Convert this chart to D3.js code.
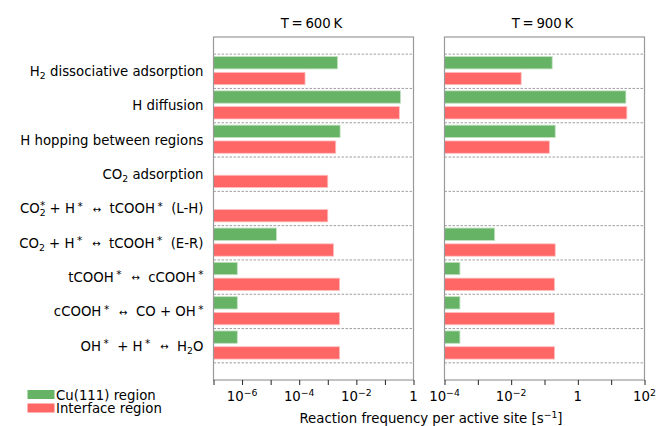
<!DOCTYPE html>
<html>
<head>
<meta charset="utf-8">
<script src="https://cdn.jsdelivr.net/npm/d3@7"></script>
<style>
  body { margin: 0; background: #fff; }
  svg text { font-family: "DejaVu Sans", sans-serif; fill: #000; white-space: pre; }
</style>
</head>
<body>
<svg id="chart" width="656" height="426"></svg>
<script>
// reaction steps, each label is a list of [text, style] pieces
const categories = [
    [["H", null], ["2", "sub"], [" dissociative adsorption", null]],
    [["H diffusion", null]],
    [["H hopping between regions", null]],
    [["CO", null], ["2", "sub"], [" adsorption", null]],
    [["CO", null], ["2", "sub"], ["*", "supx"], [" + H", null], ["*", "sup"], ["  ", null], ["\u2194", "arrow"], ["  tCOOH", null], ["*", "sup"], ["  (L-H)", null]],
    [["CO", null], ["2", "sub"], [" + H", null], ["*", "sup"], ["  ", null], ["\u2194", "arrow"], ["  tCOOH", null], ["*", "sup"], ["  (E-R)", null]],
    [["tCOOH", null], ["*", "sup"], ["  ", null], ["\u2194", "arrow"], ["  cCOOH", null], ["*", "sup"]],
    [["cCOOH", null], ["*", "sup"], ["  ", null], ["\u2194", "arrow"], ["  CO + OH", null], ["*", "sup"]],
    [["OH", null], ["*", "sup"], ["  + H", null], ["*", "sup"], ["  ", null], ["\u2194", "arrow"], ["  H", null], ["2", "sub"], ["O", null]]
];

const cu600  = [2.2e-3, 0.35, 2.7e-3, null, null, 1.6e-5, 6.8e-7, 6.8e-7, 6.8e-7];
const int600 = [1.6e-4, 0.32, 1.9e-3, 1.0e-3, 1.0e-3, 1.6e-3, 2.6e-3, 2.6e-3, 2.6e-3];
const cu900  = [0.17, 27.6, 0.21, null, null, 3.2e-3, 2.9e-4, 2.9e-4, 2.9e-4];
const int900 = [0.02, 29.6, 0.14, null, null, 0.21, 0.2, 0.2, 0.2];

const titles = ["T\u2009=\u2009600\u2009K", "T\u2009=\u2009900\u2009K"];
const domains = [[1e-7, 1], [1e-4, 1e2]];
const tickExps = [[-7, -6, -5, -4, -3, -2, -1, 0], [-4, -3, -2, -1, 0, 1, 2]];
const labelExps = [[-6, -4, -2, 0], [-4, -2, 0, 2]];
const legendNames = ["Cu(111) region", "Interface region"];

const green = "#66b366", red = "#ff6666";
const fs = 13.3;
const svg = d3.select("#chart");

const plotTop = 37, plotBottom = 380;
const y = d3.scaleLinear().domain([-1, 9]).range([plotTop, plotBottom]);
const unit = y(1) - y(0);
const barH = 0.36 * unit;

const panels = [
    { x0: 213.5, x1: 413.5, cu: cu600, inter: int600 },
    { x0: 444.5, x1: 644.5, cu: cu900, inter: int900 }
];

// writes pieces as tspans, moving the baseline for sub/superscripts
function richText(t, parts) {
    let shift = 0;
    parts.forEach(([s, style]) => {
        let target = 0, size = fs, dx = 0;
        if (style === "sub") { target = 3; size = 9.3; }
        else if (style === "sup") { target = -3.5; size = 10.5; dx = 2.5; }
        else if (style === "exp") { target = -5; size = 9.3; }
        else if (style === "supx") { target = -4.5; size = 10.5; dx = -5.5; }
        else if (style === "arrow") { target = -0.5; size = 10; dx = 1.5; }
        const ts = t.append("tspan").attr("dy", target - shift).attr("font-size", size).text(s);
        if (dx) ts.attr("dx", dx);
        shift = target;
    });
}

panels.forEach((p, pi) => {
    const x = d3.scaleLog().domain(domains[pi]).range([p.x0, p.x1]);
    const g = svg.append("g");

    // dashed separators between categories
    d3.range(-0.5, 9, 1).forEach(v => {
        g.append("line")
            .attr("x1", p.x0).attr("x2", p.x1)
            .attr("y1", y(v)).attr("y2", y(v))
            .attr("stroke", "#888").attr("stroke-width", 0.8)
            .attr("stroke-dasharray", "2.5,1.5");
    });

    const rows = categories.map((c, i) => ({ i, cu: p.cu[i], inter: p.inter[i] }));

    g.selectAll(".cu").data(rows.filter(d => d.cu != null)).join("rect")
        .attr("x", p.x0)
        .attr("y", d => y(d.i - 0.25) - barH / 2)
        .attr("width", d => x(d.cu) - p.x0)
        .attr("height", barH)
        .attr("fill", green)
        .attr("stroke", "#c2e0c2").attr("stroke-width", 0.8);

    g.selectAll(".int").data(rows.filter(d => d.inter != null)).join("rect")
        .attr("x", p.x0)
        .attr("y", d => y(d.i + 0.21) - barH / 2)
        .attr("width", d => x(d.inter) - p.x0)
        .attr("height", barH)
        .attr("fill", red)
        .attr("stroke", "#ffc2c2").attr("stroke-width", 0.8);

    // frame
    g.append("rect")
        .attr("x", p.x0).attr("y", plotTop)
        .attr("width", p.x1 - p.x0).attr("height", plotBottom - plotTop)
        .attr("fill", "none").attr("stroke", "#999").attr("stroke-width", 1.2);

    // x axis
    const axis = d3.axisBottom(x)
        .tickValues(tickExps[pi].map(e => Math.pow(10, e)))
        .tickSize(5).tickPadding(4)
        .tickFormat(() => "");
    const ax = svg.append("g").attr("transform", `translate(0,${plotBottom})`).call(axis);
    ax.select(".domain").remove();
    ax.selectAll(".tick line").attr("stroke", "#222").attr("stroke-width", 1);

    labelExps[pi].forEach(e => {
        const t = svg.append("text")
            .attr("x", x(Math.pow(10, e)))
            .attr("y", plotBottom + 21)
            .attr("text-anchor", "middle")
            .attr("font-size", fs);
        if (e === 0) { t.text("1"); return; }
        richText(t, [["10", null], [e < 0 ? "\u2212" + (-e) : String(e), "exp"]]);
    });

    svg.append("text")
        .attr("x", (p.x0 + p.x1) / 2 - 2).attr("y", 28)
        .attr("text-anchor", "middle").attr("font-size", fs)
        .text(titles[pi]);
});

// category labels
categories.forEach((parts, i) => {
    const t = svg.append("text")
        .attr("x", 203.5).attr("y", y(i) + 4.8)
        .attr("text-anchor", "end").attr("font-size", fs);
    richText(t, parts);
});

// x axis title
const xt = svg.append("text")
    .attr("x", 431).attr("y", 423)
    .attr("text-anchor", "middle").attr("font-size", fs);
richText(xt, [["Reaction frequency per active site [s", null], ["\u22121", "exp"], ["]", null]]);

// legend
const leg = svg.append("g");
[green, red].forEach((c, i) => {
    leg.append("rect")
        .attr("x", 27.5).attr("y", 390 + i * 13.5)
        .attr("width", 27).attr("height", 9)
        .attr("fill", c);
    leg.append("text")
        .attr("x", 56).attr("y", 399.5 + i * 13.5)
        .attr("font-size", fs)
        .text(legendNames[i]);
});
</script>
</body>
</html>
